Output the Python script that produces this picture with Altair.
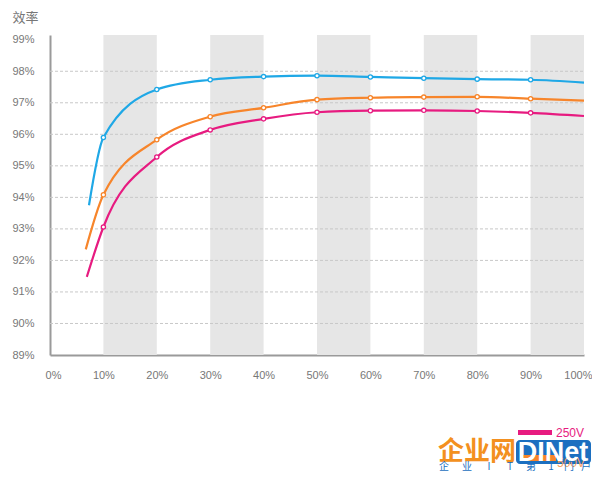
import altair as alt
import pandas as pd

# ---- data ----
loads = [10, 20, 30, 40, 50, 60, 70, 80, 90, 100]
blue_start = (7.3, 93.75)
orange_start = (6.7, 92.35)
pink_start = (6.9, 91.48)
blue = [95.90, 97.42, 97.73, 97.83, 97.86, 97.82, 97.78, 97.75, 97.73, 97.64]
orange = [94.08, 95.83, 96.56, 96.84, 97.10, 97.16, 97.18, 97.19, 97.13, 97.07]
pink = [93.06, 95.28, 96.14, 96.49, 96.70, 96.75, 96.76, 96.74, 96.68, 96.58]
marker_loads = [10, 20, 30, 40, 50, 60, 70, 80, 90]
band_starts = [10, 30, 50, 70, 90]
band_ends = [20, 40, 60, 80, 100]
grid_values = [90, 91, 92, 93, 94, 95, 96, 97, 98]
y_ticks = [89, 90, 91, 92, 93, 94, 95, 96, 97, 98, 99]
x_ticks = [0, 10, 20, 30, 40, 50, 60, 70, 80, 90, 100]

series_names = ["s1", "s2", "s3"]
series_colors = ["#1fa8e6", "#f7852b", "#e71b80"]

# watermark subtitle characters
sub_chars = ["企", "业", "I", "T", "第", "1", "门", "户"]
sub_px = [394, 417, 439, 460, 481, 501, 519, 536]

rows = []
for name, start, vals in zip(series_names, [blue_start, orange_start, pink_start], [blue, orange, pink]):
    rows.append({"series": name, "load": start[0], "eff": start[1], "marker": False})
    for l, v in zip(loads, vals):
        rows.append({"series": name, "load": l, "eff": v, "marker": l in marker_loads})
df = pd.DataFrame(rows)
bands = pd.DataFrame({"a": band_starts, "b": band_ends})
grid = pd.DataFrame({"g": grid_values})
subdf = pd.DataFrame({"c": sub_chars, "px": sub_px})

W, H = 534, 320
xs = alt.Scale(domain=[0, 100], nice=False)
ys = alt.Scale(domain=[89, 99.15], nice=False, zero=False)
color = alt.Color("series:N", scale=alt.Scale(domain=series_names, range=series_colors), legend=None)

xaxis = alt.Axis(values=x_ticks, labelExpr="datum.value + '%'", title=None,
                 ticks=False, grid=False, domainColor="#9a9a9a", domainWidth=2,
                 labelPadding=14, labelColor="#777", labelFontSize=11,
                 labelFont="Liberation Sans", labelOverlap=False, labelFlush=False,
                 labelAlign=alt.expr("datum.value == 100 ? 'right' : 'center'"),
                 labelOffset=alt.expr("datum.value == 100 ? 8 : (datum.value == 0 ? 3 : 0)"))
yaxis = alt.Axis(values=y_ticks, labelExpr="datum.value + '%'", title="效率",
                 titleAngle=0, titleX=-38, titleY=-24, titleAlign="left",
                 titleBaseline="top", titleFont="Noto Sans CJK SC",
                 titleFontSize=13, titleFontWeight="normal", titleColor="#777",
                 ticks=False, grid=False, domainColor="#9a9a9a", domainWidth=2,
                 labelPadding=16, labelColor="#777", labelFontSize=11,
                 labelFont="Liberation Sans", labelOverlap=False)

band_layer = alt.Chart(bands).mark_rect(color="#e6e6e6").encode(
    x=alt.X("a:Q", scale=xs, axis=xaxis),
    x2="b:Q",
    y=alt.value(0), y2=alt.value(H),
)

grid_layer = alt.Chart(grid).mark_rule(color="#c8c8c8", strokeDash=[3, 2], strokeWidth=1).encode(
    y=alt.Y("g:Q", scale=ys, axis=yaxis),
    x=alt.value(0), x2=alt.value(W),
)

line_layer = alt.Chart(df).mark_line(interpolate="monotone", strokeWidth=2.2).encode(
    x=alt.X("load:Q", scale=xs, axis=xaxis),
    y=alt.Y("eff:Q", scale=ys, axis=yaxis),
    color=color,
)

point_layer = alt.Chart(df).transform_filter("datum.marker").mark_point(
    filled=False, fill="white", size=18, strokeWidth=1.3, opacity=1).encode(
    x=alt.X("load:Q", scale=xs, axis=xaxis),
    y=alt.Y("eff:Q", scale=ys, axis=yaxis),
    color=color,
)

# watermark / logo
logo = [
    alt.Chart().mark_rect(color="#1c6fc0", cornerRadius=4).encode(
        x=alt.value(466), x2=alt.value(541), y=alt.value(405), y2=alt.value(429)),
    alt.Chart().mark_rect(color="#e71b80").encode(
        x=alt.value(468), x2=alt.value(502), y=alt.value(395), y2=alt.value(400)),
    alt.Chart().mark_text(text="500V", font="Liberation Sans", fontSize=12,
                          color="#f7a060", align="left", baseline="middle").encode(
        x=alt.value(507), y=alt.value(428)),
    alt.Chart().mark_rect(color="#f7852b").encode(
        x=alt.value(470), x2=alt.value(506), y=alt.value(420), y2=alt.value(426)),
    alt.Chart().mark_text(text="企业网", font="Noto Sans CJK SC", fontSize=26, fontWeight="bold",
                          color="#f39020", align="center", baseline="middle").encode(
        x=alt.value(427), y=alt.value(417)),
    alt.Chart().mark_text(text="DINet", font="Liberation Sans", fontSize=27, fontWeight="bold",
                          color="white", align="center", baseline="middle").encode(
        x=alt.value(503), y=alt.value(418)),
    alt.Chart().mark_text(text="250V", font="Liberation Sans", fontSize=12,
                          color="#e71b80", align="left", baseline="middle").encode(
        x=alt.value(506), y=alt.value(398)),
    alt.Chart(subdf).mark_text(font="Noto Sans CJK SC", fontSize=10,
                               color="#1c6fc0", align="center", baseline="middle").encode(
        x=alt.X("px:Q", scale=None), y=alt.value(432), text="c:N"),
]

chart = alt.layer(band_layer, grid_layer, line_layer, point_layer, *logo).properties(
    width=W, height=H,
    autosize="none",
    background="white",
    padding={"left": 42, "top": 27, "right": 8, "bottom": 119},
).configure_view(stroke=None)

chart.save("out.html", embed_options={"renderer": "svg", "actions": False})
